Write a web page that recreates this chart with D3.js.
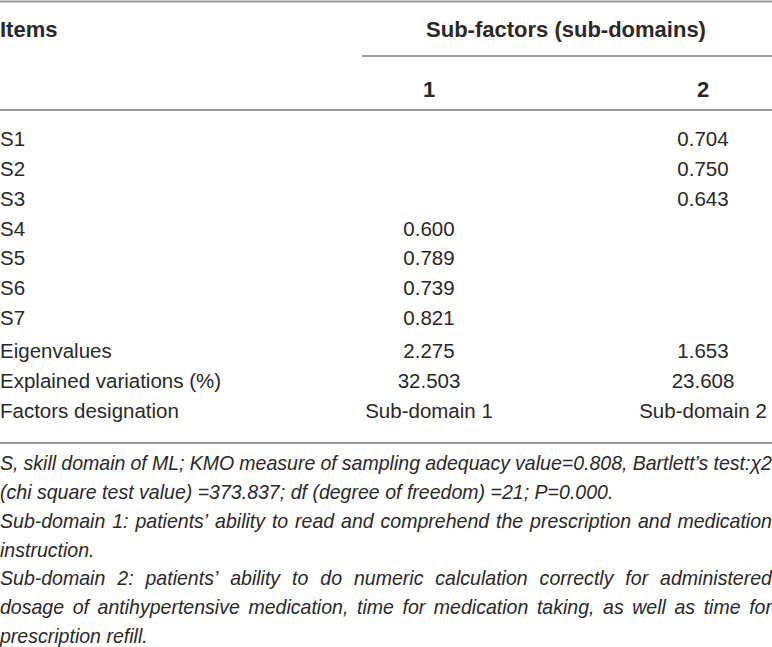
<!DOCTYPE html>
<html>
<head>
<meta charset="utf-8">
<script src="https://cdn.jsdelivr.net/npm/d3@7"></script>
<style>
    body { margin: 0; background: #fff; }
    text { font-family: "Liberation Sans", Arial, sans-serif; fill: #2b2829; }
</style>
</head>
<body>
<div id="table"></div>
<script>

// factor loadings of the skill domain items
const items = ['S1', 'S2', 'S3', 'S4', 'S5', 'S6', 'S7'];
const factor1 = [null, null, null, 0.600, 0.789, 0.739, 0.821];
const factor2 = [0.704, 0.750, 0.643, null, null, null, null];

// summary rows
const statLabels = ['Eigenvalues', 'Explained variations (%)', 'Factors designation'];
const stat1 = ['2.275', '32.503', 'Sub-domain 1'];
const stat2 = ['1.653', '23.608', 'Sub-domain 2'];

const columns = ['1', '2'];

// footnote lines, true = justified
const footLines = [
    'S, skill domain of ML; KMO measure of sampling adequacy value=0.808, Bartlett\u2019s test:\u03c72',
    '(chi square test value) =373.837; df (degree of freedom) =21; P=0.000.',
    'Sub-domain 1: patients\u2019 ability to read and comprehend the prescription and medication',
    'instruction.',
    'Sub-domain 2: patients\u2019 ability to do numeric calculation correctly for administered',
    'dosage of antihypertensive medication, time for medication taking, as well as time for',
    'prescription refill.'
];
const footJustify = [true, false, true, false, true, true, false];

const width = 772, height = 647;
const fontSize = 20.5;

const svg = d3.select('#table').append('svg')
    .attr('width', width)
    .attr('height', height);

// scales
const xCol = d3.scaleOrdinal().domain(columns).range([429, 703]);
const yItem = d3.scaleLinear().domain([0, items.length - 1]).range([146, 325]);
const yStat = d3.scaleLinear().domain([0, statLabels.length - 1]).range([358, 418]);
const yFoot = d3.scaleLinear().domain([0, footLines.length - 1]).range([470, 643]);

// horizontal rules
const rules = [
    {x1: 0, x2: width, y: 1.5},
    {x1: 362, x2: width, y: 56},
    {x1: 0, x2: width, y: 110},
    {x1: 0, x2: width, y: 443}
];
svg.selectAll('.rule')
    .data(rules)
    .enter()
    .append('line')
    .attr('class', 'rule')
    .attr('x1', d => d.x1)
    .attr('x2', d => d.x2)
    .attr('y1', d => d.y)
    .attr('y2', d => d.y)
    .attr('stroke', '#9a9a9a')
    .attr('stroke-width', 1.8);

// header
const header = svg.append('g').attr('class', 'header')
    .style('font-weight', 'bold')
    .style('font-size', '22px');

header.append('text').attr('x', 0).attr('y', 37).text('Items');
header.append('text')
    .attr('x', (xCol('1') + xCol('2')) / 2)
    .attr('y', 37)
    .attr('text-anchor', 'middle')
    .text('Sub-factors (sub-domains)');

header.selectAll('.col-head')
    .data(columns)
    .enter()
    .append('text')
    .attr('class', 'col-head')
    .attr('x', d => xCol(d))
    .attr('y', 97)
    .attr('text-anchor', 'middle')
    .text(d => d);

// body cells
let cells = [];
items.forEach((d, i) => {
    cells.push({x: 0, y: yItem(i), text: d, anchor: 'start'});
    if (factor1[i] !== null) cells.push({x: xCol('1'), y: yItem(i), text: d3.format('.3f')(factor1[i]), anchor: 'middle'});
    if (factor2[i] !== null) cells.push({x: xCol('2'), y: yItem(i), text: d3.format('.3f')(factor2[i]), anchor: 'middle'});
});
statLabels.forEach((d, i) => {
    cells.push({x: 0, y: yStat(i), text: d, anchor: 'start'});
    cells.push({x: xCol('1'), y: yStat(i), text: stat1[i], anchor: 'middle'});
    cells.push({x: xCol('2'), y: yStat(i), text: stat2[i], anchor: 'middle'});
});

svg.append('g').attr('class', 'body')
    .style('font-size', fontSize + 'px')
    .selectAll('text')
    .data(cells)
    .enter()
    .append('text')
    .attr('x', d => d.x)
    .attr('y', d => d.y)
    .attr('text-anchor', d => d.anchor)
    .text(d => d.text)
    .each(function(d) {
        // keep centred cells inside the right edge
        let w = this.getComputedTextLength();
        if (d.anchor === 'middle' && d.x + w / 2 > width) {
            d3.select(this).attr('x', width - w / 2);
        }
    });

// footnotes
const foot = svg.append('g').attr('class', 'foot')
    .style('font-size', fontSize + 'px')
    .style('font-style', 'italic');

const probe = foot.append('text').attr('x', -1000).attr('y', -1000);
function measure(s) {
    probe.text(s);
    return probe.node().getComputedTextLength();
}

// the reference face is narrower than the fallback, squeeze to match
const k = (95 / measure('instruction.') + 147 / measure('prescription refill.')) / 2;
const spaceW = measure('a a') - measure('aa');

footLines.forEach((line, i) => {
    let words = line.split(' ');
    let widths = words.map(measure);
    let total = d3.sum(widths);
    let gap = spaceW;
    if (footJustify[i] && words.length > 1) {
        gap = (width / k - total) / (words.length - 1);
    }
    let xs = [];
    let cur = 0;
    widths.forEach(w => { xs.push(cur); cur += w + gap; });

    foot.append('g')
        .attr('transform', `translate(0, ${yFoot(i)}) scale(${k}, 1)`)
        .append('text')
        .selectAll('tspan')
        .data(words)
        .enter()
        .append('tspan')
        .attr('x', (d, j) => xs[j])
        .attr('y', 0)
        .text(d => d);
});

probe.remove();

</script>
</body>
</html>
